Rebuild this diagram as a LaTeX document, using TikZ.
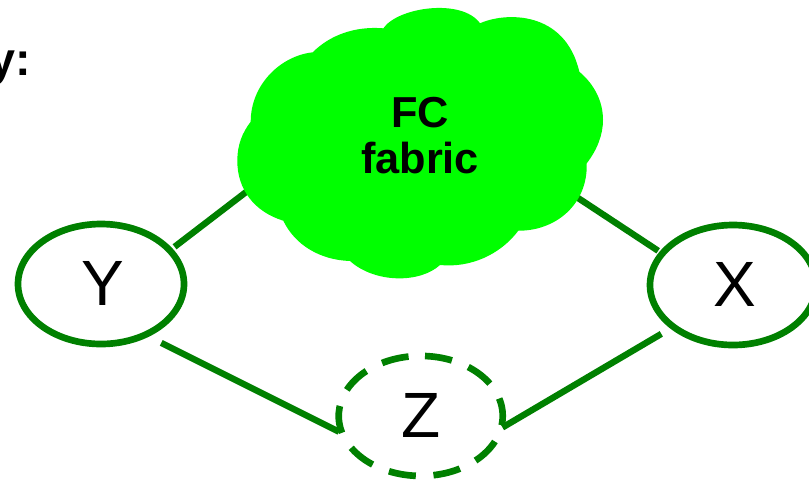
\documentclass[tikz,border=0pt]{standalone}
\usepackage{fontspec}
\setmainfont{Liberation Sans}
\usetikzlibrary{shapes.geometric}
\definecolor{linegreen}{HTML}{008000}
\definecolor{cloudgreen}{HTML}{00FF00}
\tikzset{
  x=0.75pt,y=-0.75pt,
  px/.style={line width=5pt,draw=linegreen},
  station/.style={ellipse,inner sep=0pt,outer sep=0pt,minimum width=124.5pt,minimum height=90pt,font=\fontsize{48}{48}\selectfont},
  link/.style={line width=4.8pt,draw=linegreen},
  cloudlabel/.style={align=center,font=\fontsize{32.5}{34.5}\selectfont\bfseries,inner sep=0pt}
}
\begin{document}
\begin{tikzpicture}
\useasboundingbox (0,0) rectangle (809,480);
\clip (0,0) rectangle (809,480);
\node[station,draw=linegreen,line width=5pt] (Y) at (101,284) {\hspace*{3pt}\raisebox{1pt}{Y}};
\node[station,draw=linegreen,line width=5pt] (X) at (733,285) {\hspace*{2pt}\raisebox{1pt}{X}};
\node[station] (Z) at (421,416) {\raisebox{1pt}{Z}};
\coordinate (cl) at (250,189);
\coordinate (cr) at (572,194);
\draw[link,shorten <=4.5pt] (Y.26.7) -- (cl);
\draw[link,shorten <=3.75pt] (X.156.6) -- (cr);
\draw[link,shorten <=13.5pt,shorten >=2pt] (Y.-49) -- (Z.192.8);
\draw[link,shorten <=10.5pt] (X.215.4) -- (Z.-8);
\draw[px,dash pattern=on 20.5pt off 13.25pt] (425,356) arc[start angle=87,end angle=-268,x radius=61.5pt,y radius=45pt];
\fill[cloudgreen] (250.7,121.7)
  .. controls (250.7,85) and (280,56) .. (312.7,52.3)
  .. controls (330,35) and (355,26) .. (383.3,28.3)
  .. controls (398,7) and (462,-2) .. (480,23.3)
  .. controls (505,12) and (565,10) .. (579.3,71.7)
  .. controls (595,85) and (603,102) .. (603,120)
  .. controls (603,135) and (597,150) .. (586.7,163.3)
  .. controls (588,205) and (555,231) .. (518.3,230.7)
  .. controls (500,255) and (470,268) .. (440,265)
  .. controls (420,283.4) and (375,283.4) .. (350,261)
  .. controls (320,260) and (295,245) .. (283.3,220.7)
  .. controls (255,212) and (237,190) .. (237.3,160)
  .. controls (237.5,145) and (242,133) .. (250.7,121.7) -- cycle;
\node[cloudlabel] (fc) at (420,136) {FC\\fabric};
\node[anchor=base east,inner sep=0pt,font=\fontsize{35}{36}\selectfont\bfseries] (title) at (31,75) {y:};
\end{tikzpicture}
\end{document}
